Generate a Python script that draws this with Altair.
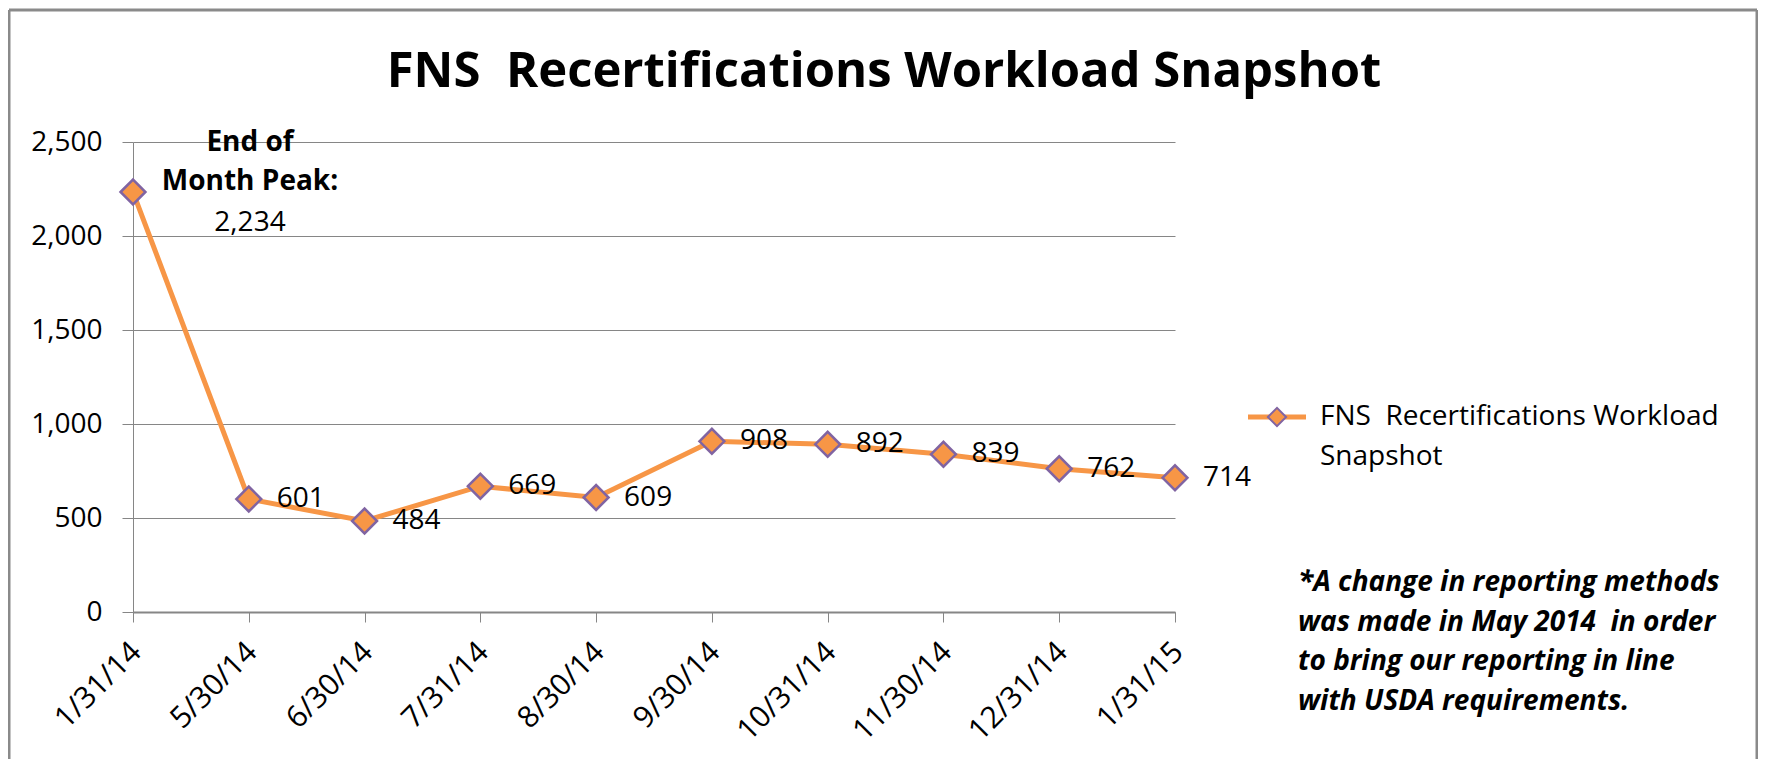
import altair as alt
import pandas as pd

# ---- data ----
dates = ["1/31/14", "5/30/14", "6/30/14", "7/31/14", "8/30/14",
         "9/30/14", "10/31/14", "11/30/14", "12/31/14", "1/31/15"]
values = [2234, 601, 484, 669, 609, 908, 892, 839, 762, 714]
y_ticks = [0, 500, 1000, 1500, 2000, 2500]
title_text = "FNS\u00a0 Recertifications Workload Snapshot"
legend_lines = ["FNS\u00a0 Recertifications Workload", "Snapshot"]
peak_lines = ["End of", "Month Peak:"]
note_lines = ["*A change in reporting methods",
              "was made in May 2014\u00a0 in order",
              "to bring our reporting in line",
              "with USDA requirements."]

df = pd.DataFrame({"date": dates, "value": values})
df["label"] = [f"{v:,}" for v in values]
df_first = df.iloc[:1]
df_rest = df.iloc[1:]
one = pd.DataFrame({"k": [0]})

W, H = 1042, 470
ORANGE = "#F79646"
PURPLE = "#8064A2"
GRID = "#868686"
FONT = "Open Sans"
FS = 28

x_enc = alt.X("date:N", sort=None,
              scale=alt.Scale(type="point", padding=0),
              axis=alt.Axis(title=None, labelAngle=-45, labelAlign="right",
                            labelBaseline="middle", labelPadding=25, labelOffset=3,
                            tickSize=10, tickColor=GRID, domainColor=GRID, domainWidth=2,
                            labelFontSize=30, labelColor="black", labelFont=FONT,
                            grid=False))
y_enc = alt.Y("value:Q", scale=alt.Scale(domain=[0, 2500], nice=False, zero=True),
              axis=alt.Axis(title=None, values=y_ticks, format=",.0f", grid=True,
                            gridColor=GRID, gridWidth=1, tickColor=GRID, tickSize=11,
                            labelPadding=20, domainColor=GRID, labelFontSize=FS,
                            labelFont=FONT, labelColor="black"))

base = alt.Chart(df).encode(x=x_enc, y=y_enc)
line = base.mark_line(color=ORANGE, strokeWidth=5)
pts = base.mark_point(shape="diamond", filled=True, fill=ORANGE, stroke=PURPLE,
                      strokeWidth=2.5, size=620, opacity=1)

labels = alt.Chart(df_rest).mark_text(align="left", baseline="middle", dx=28,
                                      fontSize=FS, font=FONT, color="black").encode(
    x=alt.X("date:N", sort=dates), y="value:Q", text="label:N")

first_lbl = alt.Chart(df_first).mark_text(align="center", baseline="middle", dx=117, dy=31,
                                          fontSize=FS, font=FONT, color="black").encode(
    x=alt.X("date:N", sort=dates), y="value:Q", text="label:N")

peak_layers = []
for i, t in enumerate(peak_lines):
    peak_layers.append(
        alt.Chart(df_first).mark_text(align="center", baseline="middle", dx=117,
                                      dy=-49 + 39 * i, fontSize=FS, font=FONT,
                                      fontWeight="bold", color="black", text=t).encode(
            x=alt.X("date:N", sort=dates), y="value:Q"))

title = alt.Chart(one).mark_text(text=title_text, align="center", baseline="middle",
                                 fontSize=49, font=FONT, fontWeight="bold",
                                 color="black").encode(x=alt.value(751), y=alt.value(-70))

# manual legend
leg_line = alt.Chart(one).mark_rule(color=ORANGE, strokeWidth=5).encode(
    x=alt.value(1115), x2=alt.value(1173), y=alt.value(275))
leg_pt = alt.Chart(one).mark_point(shape="diamond", filled=True, fill=ORANGE, stroke=PURPLE,
                                   strokeWidth=2, size=330, opacity=1).encode(
    x=alt.value(1144), y=alt.value(275))
leg_txt = [alt.Chart(one).mark_text(text=t, align="left", baseline="middle", fontSize=FS,
                                    font=FONT, color="black").encode(
    x=alt.value(1187), y=alt.value(275 + 40 * i)) for i, t in enumerate(legend_lines)]

note_txt = [alt.Chart(one).mark_text(text=t, align="left", baseline="middle", fontSize=28,
                                     font=FONT, fontWeight="bold", fontStyle="italic",
                                     color="black").encode(
    x=alt.value(1165), y=alt.value(441 + 39.5 * i)) for i, t in enumerate(note_lines)]

# chart-area frame
BORDER = "#8a8a8a"
frame = [
    alt.Chart(one).mark_rule(color=BORDER, strokeWidth=3).encode(
        x=alt.value(-124), y=alt.value(-132), y2=alt.value(700)),
    alt.Chart(one).mark_rule(color=BORDER, strokeWidth=3).encode(
        x=alt.value(-124), x2=alt.value(1624), y=alt.value(-132)),
    alt.Chart(one).mark_rule(color=BORDER, strokeWidth=3).encode(
        x=alt.value(1624), y=alt.value(-132), y2=alt.value(700)),
]

chart = alt.layer(line, pts, labels, first_lbl, *peak_layers, title, leg_line, leg_pt,
                  *leg_txt, *note_txt, *frame).properties(
    width=W, height=H,
    autosize=alt.AutoSizeParams(type="none"),
    padding={"left": 125, "top": 134, "right": 583, "bottom": 147},
    background="white",
).configure_view(strokeWidth=0)

chart.save("out.html", embed_options={"renderer": "svg", "actions": False})
